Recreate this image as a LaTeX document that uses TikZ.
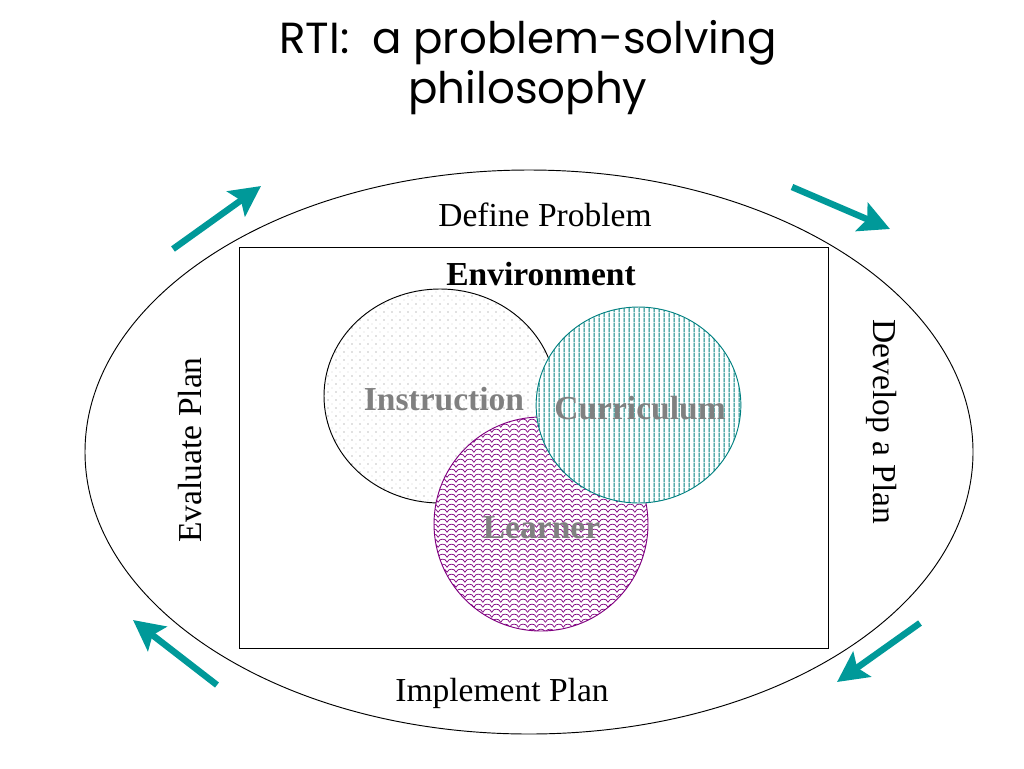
\documentclass[tikz,border=0pt]{standalone}
\usepackage{fontspec}
\setmainfont{Liberation Serif}
\newfontfamily\titlefont{Poppins}
\usetikzlibrary{positioning,shapes.geometric,arrows.meta,patterns}

\definecolor{rtiteal}{RGB}{0,153,153}
\definecolor{rtilines}{RGB}{0,128,128}
\definecolor{rtipurple}{RGB}{128,0,128}
\definecolor{rtigray}{RGB}{128,128,128}

\pgfdeclarepatternformonly{rtidots}{\pgfpoint{-0.6pt}{-0.6pt}}{\pgfpoint{6.2pt}{6.2pt}}{\pgfpoint{6.8pt}{6.8pt}}{%
	\pgfpathcircle{\pgfpoint{0pt}{0pt}}{0.5pt}
	\pgfpathcircle{\pgfpoint{3.4pt}{3.4pt}}{0.3pt}
	\pgfusepath{fill}
}
\pgfdeclarepatternformonly{rtivlines}{\pgfpoint{0pt}{0pt}}{\pgfpoint{3.9pt}{3.9pt}}{\pgfpoint{3.9pt}{3.9pt}}{%
	\pgfsetlinewidth{1.1pt}
	\pgfpathmoveto{\pgfpoint{1.95pt}{-0.1pt}}
	\pgfpathlineto{\pgfpoint{1.95pt}{4pt}}
	\pgfusepath{stroke}
}
\pgfdeclarepatternformonly{rtiwave}{\pgfpoint{-0.4pt}{0pt}}{\pgfpoint{8pt}{4.25pt}}{\pgfpoint{7.6pt}{4.25pt}}{%
	\pgfsetlinewidth{0.6pt}
	\pgfpathmoveto{\pgfpoint{0pt}{0.6pt}}
	\pgfpathcurveto{\pgfpoint{0.8pt}{2.6pt}}{\pgfpoint{2.2pt}{3.3pt}}{\pgfpoint{3.8pt}{3.3pt}}
	\pgfpathcurveto{\pgfpoint{5.4pt}{3.3pt}}{\pgfpoint{6.8pt}{2.6pt}}{\pgfpoint{7.6pt}{0.6pt}}
	\pgfusepath{stroke}
}

\begin{document}
\begin{tikzpicture}[x=0.85pt,y=-0.85pt,
	title/.style={font=\titlefont\fontsize{37}{42.5}\selectfont, align=center, inner sep=0pt},
	stage/.style={font=\fontsize{28.5}{34}\selectfont, inner sep=0pt},
	venn/.style={ellipse, inner sep=0pt, line width=0.8pt, preaction={fill=white}},
	venntext/.style={text=rtigray, font=\bfseries\fontsize{28.5}{34}\selectfont, inner sep=0pt},
	cyclearrow/.style={draw=rtiteal, line width=5.5pt, -{Stealth[length=26pt,width=26pt,inset=5pt]}}]
	\useasboundingbox (0,0) rectangle (1024,768);
	\node[title, anchor=base] (ttl) at (528,103) {RTI:~ a problem-solving\\philosophy};

	\node[ellipse, draw, line width=0.8pt, minimum width=754.8pt, minimum height=479.4pt, inner sep=0pt] (loop) at (529,452) {};
	\node[draw, line width=0.8pt, minimum width=500.65pt, minimum height=340.85pt, inner sep=0pt] (env) at (533.5,447.5) {};

	\node[venn, draw=black, pattern=rtidots, pattern color=rtigray, minimum width=197.2pt, minimum height=181.9pt] (instr) at (440,396) {};
	\node[venn, draw=rtipurple, pattern=rtiwave, pattern color=rtipurple, minimum size=181.9pt] (learner) at (541,524) {};
	\node[venn, draw=rtilines, pattern=rtivlines, pattern color=rtilines, minimum width=174pt, minimum height=166.6pt] (curr) at (638.5,405) {};

	\node[venntext, anchor=base] (instrtext) at (444,410) {Instruction};
	\node[venntext, anchor=base] (currtext) at (640,419) {Curriculum};
	\node[venntext, anchor=base] (learnertext) at (541.5,538) {Learner};
	\node[stage, font=\bfseries\fontsize{28.5}{34}\selectfont, below=12.75pt of env.north, xshift=6.4pt] (envtext) {Environment};

	\node[stage, anchor=base] (define) at (545,226) {Define Problem};
	\node[stage, rotate=-90] (develop) at (882,422) {Develop a Plan};
	\node[stage, anchor=base] (implement) at (502,701) {Implement Plan};
	\node[stage, rotate=90] (evaluate) at (190,450) {Evaluate Plan};

	\coordinate (a1s) at (173,249);
	\coordinate (a1e) at (261,186);
	\coordinate (a2s) at (792,187);
	\coordinate (a2e) at (890,229);
	\coordinate (a3s) at (920,623);
	\coordinate (a3e) at (837,682);
	\coordinate (a4s) at (217,685);
	\coordinate (a4e) at (133,620);
	\draw[cyclearrow] (a1s) -- (a1e);
	\draw[cyclearrow] (a2s) -- (a2e);
	\draw[cyclearrow] (a3s) -- (a3e);
	\draw[cyclearrow] (a4s) -- (a4e);
\end{tikzpicture}
\end{document}
